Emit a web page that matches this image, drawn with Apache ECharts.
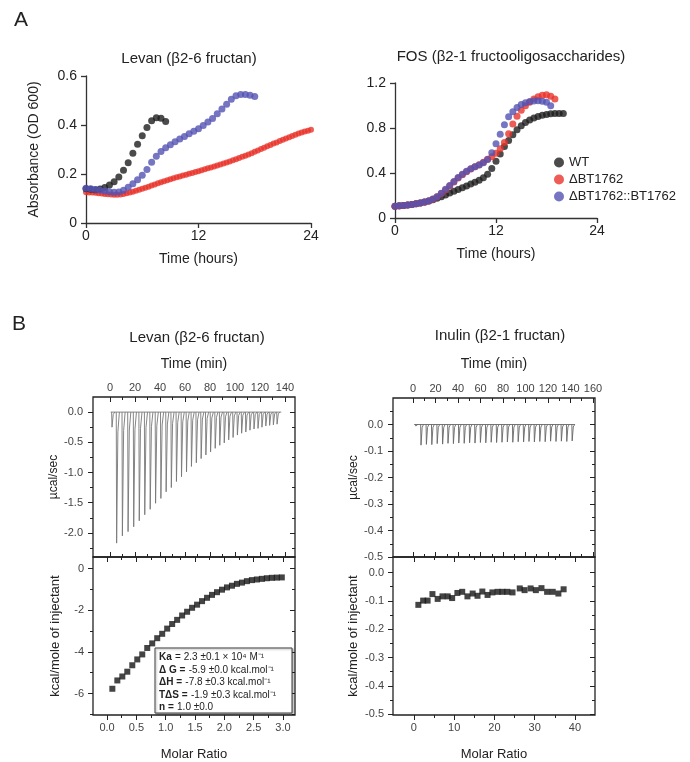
<!DOCTYPE html>
<html><head><meta charset="utf-8">
<script src="https://cdn.jsdelivr.net/npm/echarts@6/dist/echarts.min.js"></script>
<style>html,body{margin:0;padding:0;background:#fff}#c{width:690px;height:762px}</style>
</head><body><div id="c"></div>
<script>
// ---------- Panel A: Levan growth (time h, OD600) ----------
const levanWT = [[0,0.140],[0.5,0.138],[1,0.136],[1.5,0.139],[2,0.145],[2.5,0.155],[3,0.168],[3.5,0.188],[4,0.215],[4.5,0.246],[5,0.285],[5.5,0.321],[6,0.356],[6.5,0.390],[7,0.417],[7.5,0.430],[8,0.428],[8.5,0.414]];
const levanDel = [[0,0.126],[0.33,0.125],[0.67,0.124],[1,0.123],[1.33,0.121],[1.67,0.120],[2,0.118],[2.33,0.117],[2.67,0.116],[3,0.115],[3.33,0.115],[3.67,0.116],[4,0.118],[4.33,0.121],[4.67,0.124],[5,0.128],[5.33,0.132],[5.67,0.136],[6,0.140],[6.33,0.144],[6.67,0.148],[7,0.153],[7.33,0.157],[7.67,0.162],[8,0.166],[8.33,0.170],[8.67,0.175],[9,0.179],[9.33,0.183],[9.67,0.187],[10,0.190],[10.33,0.194],[10.67,0.197],[11,0.201],[11.33,0.204],[11.67,0.208],[12,0.211],[12.33,0.215],[12.67,0.219],[13,0.223],[13.33,0.227],[13.67,0.231],[14,0.235],[14.33,0.239],[14.67,0.243],[15,0.247],[15.33,0.251],[15.67,0.256],[16,0.260],[16.33,0.265],[16.67,0.270],[17,0.275],[17.33,0.280],[17.67,0.285],[18,0.291],[18.33,0.296],[18.67,0.302],[19,0.307],[19.33,0.313],[19.67,0.318],[20,0.324],[20.33,0.329],[20.67,0.335],[21,0.340],[21.33,0.345],[21.67,0.350],[22,0.355],[22.33,0.360],[22.67,0.365],[23,0.369],[23.33,0.373],[23.67,0.377],[24,0.381]];
const levanComp = [[0,0.142],[0.5,0.140],[1,0.137],[1.5,0.134],[2,0.131],[2.5,0.128],[3,0.126],[3.5,0.127],[4,0.134],[4.5,0.146],[5,0.160],[5.5,0.177],[6,0.195],[6.5,0.218],[7,0.248],[7.5,0.272],[8,0.292],[8.5,0.307],[9,0.319],[9.5,0.332],[10,0.343],[10.5,0.353],[11,0.364],[11.5,0.374],[12,0.385],[12.5,0.398],[13,0.412],[13.5,0.427],[14,0.446],[14.5,0.465],[15,0.485],[15.5,0.505],[16,0.519],[16.5,0.525],[17,0.525],[17.5,0.521],[18,0.516]];

// ---------- Panel A: FOS growth ----------
const fosWT = [[0,0.105],[0.5,0.108],[1,0.112],[1.5,0.116],[2,0.121],[2.5,0.127],[3,0.134],[3.5,0.142],[4,0.152],[4.5,0.163],[5,0.176],[5.5,0.190],[6,0.205],[6.5,0.222],[7,0.238],[7.5,0.254],[8,0.269],[8.5,0.285],[9,0.302],[9.5,0.318],[10,0.335],[10.5,0.358],[11,0.390],[11.5,0.440],[12,0.505],[12.5,0.570],[13,0.635],[13.5,0.690],[14,0.740],[14.5,0.785],[15,0.820],[15.5,0.850],[16,0.872],[16.5,0.890],[17,0.903],[17.5,0.913],[18,0.920],[18.5,0.926],[19,0.929],[19.5,0.930],[20,0.928]];
const fosDel = [[0,0.104],[0.5,0.107],[1,0.111],[1.5,0.115],[2,0.120],[2.5,0.126],[3,0.133],[3.5,0.141],[4,0.151],[4.5,0.166],[5,0.188],[5.5,0.217],[6,0.250],[6.5,0.285],[7,0.320],[7.5,0.355],[8,0.385],[8.5,0.412],[9,0.435],[9.5,0.455],[10,0.473],[10.5,0.495],[11,0.522],[11.5,0.545],[12,0.575],[12.5,0.615],[13,0.672],[13.5,0.750],[14,0.835],[14.5,0.905],[15,0.958],[15.5,0.998],[16,1.030],[16.5,1.058],[17,1.078],[17.5,1.092],[18,1.095],[18.5,1.082],[19,1.058]];
const fosComp = [[0,0.105],[0.5,0.108],[1,0.112],[1.5,0.116],[2,0.121],[2.5,0.127],[3,0.134],[3.5,0.142],[4,0.152],[4.5,0.168],[5,0.190],[5.5,0.220],[6,0.255],[6.5,0.290],[7,0.325],[7.5,0.360],[8,0.390],[8.5,0.415],[9,0.437],[9.5,0.455],[10,0.472],[10.5,0.492],[11,0.520],[11.5,0.580],[12,0.660],[12.5,0.745],[13,0.830],[13.5,0.900],[14,0.945],[14.5,0.983],[15,1.008],[15.5,1.025],[16,1.035],[16.5,1.040],[17,1.042],[17.5,1.038],[18,1.028],[18.5,0.998]];
const strainNames = ['WT','ΔBT1762','ΔBT1762::BT1762'];

// ---------- Panel B: ITC Levan ----------
const levanInjTime = [1.6,5.3,9.9,14.45,18.95,23.4,27.8,32.15,36.45,40.7,44.9,49.05,53.15,57.2,61.2,65.15,69.05,72.9,76.7,80.45,84.15,87.8,91.4,94.95,98.45,101.9,105.3,108.65,111.95,115.2,118.4,121.55,124.65,127.7,130.7,133.65];
const levanInjPeak = [-0.25,-2.17,-2.05,-1.98,-1.90,-1.80,-1.70,-1.61,-1.51,-1.43,-1.32,-1.25,-1.15,-1.07,-0.99,-0.90,-0.84,-0.77,-0.71,-0.66,-0.60,-0.55,-0.51,-0.46,-0.42,-0.38,-0.35,-0.33,-0.30,-0.28,-0.27,-0.25,-0.23,-0.22,-0.21,-0.20];
const levanBaseline = [0.5, 137];
const levanMolar = [0.09,0.175,0.26,0.345,0.43,0.515,0.60,0.685,0.77,0.855,0.94,1.025,1.11,1.195,1.28,1.365,1.45,1.535,1.62,1.705,1.79,1.875,1.96,2.045,2.13,2.215,2.30,2.385,2.47,2.555,2.64,2.725,2.81,2.895,2.98];
const levanHeat = [-5.77,-5.37,-5.18,-4.95,-4.64,-4.36,-4.12,-3.81,-3.59,-3.34,-3.13,-2.88,-2.66,-2.46,-2.25,-2.07,-1.88,-1.73,-1.56,-1.40,-1.26,-1.13,-1.01,-0.90,-0.82,-0.73,-0.67,-0.60,-0.55,-0.52,-0.49,-0.46,-0.44,-0.43,-0.42];

// ---------- Panel B: ITC Inulin ----------
const inulinInjTime = [2.5,7.1,11.9,16.7,21.5,26.3,31.1,35.9,40.7,45.5,50.3,55.1,59.9,64.7,69.5,74.3,79.1,83.9,88.7,93.5,98.3,103.1,107.9,112.7,117.5,122.3,127.1,131.9,136.7,141.5];
const inulinInjPeak = [-0.006,-0.078,-0.075,-0.076,-0.072,-0.074,-0.071,-0.072,-0.070,-0.071,-0.069,-0.070,-0.068,-0.069,-0.067,-0.068,-0.067,-0.066,-0.067,-0.065,-0.066,-0.064,-0.066,-0.064,-0.065,-0.063,-0.064,-0.063,-0.064,-0.062];
const inulinBaseline = [1, 144];
const inulinMolar = [1.1,2.3,3.4,4.6,5.9,7.1,8.4,9.5,10.8,12.0,13.3,14.6,15.8,17.0,18.3,19.5,20.8,22.0,23.2,24.5,26.3,27.5,29.0,30.3,31.7,33.1,34.5,35.9,37.2];
const inulinHeat = [-0.114,-0.099,-0.099,-0.076,-0.093,-0.084,-0.084,-0.090,-0.072,-0.068,-0.084,-0.074,-0.082,-0.067,-0.079,-0.070,-0.068,-0.068,-0.068,-0.070,-0.056,-0.062,-0.056,-0.062,-0.055,-0.068,-0.068,-0.074,-0.059];

// tick values
const tlXMaj = [0,20,40,60,80,100,120,140], tlXMin = [10,30,50,70,90,110,130];
const tlYMaj = [0,-0.5,-1,-1.5,-2], tlYMin = [-0.25,-0.75,-1.25,-1.75,-2.25];
const trXMaj = [0,20,40,60,80,100,120,140,160], trXMin = [10,30,50,70,90,110,130,150];
const trYMaj = [0,-0.1,-0.2,-0.3,-0.4,-0.5], trYMin = [0.05,-0.05,-0.15,-0.25,-0.35,-0.45];
const blXMaj = [0,0.5,1,1.5,2,2.5,3], blXMin = [0.25,0.75,1.25,1.75,2.25,2.75];
const blYMaj = [0,-2,-4,-6], blYMin = [-1,-3,-5,-7];
const brXMaj = [0,10,20,30,40], brXMin = [5,15,25,35];
const brYMaj = [0,-0.1,-0.2,-0.3,-0.4,-0.5], brYMin = [-0.05,-0.15,-0.25,-0.35,-0.45];

const FONT = '"Liberation Sans", Arial, sans-serif';
const RED = '#e8332b', BLUE = '#5452b3', BLACK = '#1e1e1e';

const chart = echarts.init(document.getElementById('c'));

const grids = [
  {left:86, top:76, width:225, height:147},
  {left:395, top:83, width:202, height:135},
  {left:93, top:397, width:202, height:160, show:true, borderColor:'#222', borderWidth:1.3},
  {left:393, top:398, width:202, height:159, show:true, borderColor:'#222', borderWidth:1.3},
  {left:93, top:557, width:202, height:162, show:true, borderColor:'#222', borderWidth:1.3},
  {left:393, top:557, width:202, height:162, show:true, borderColor:'#222', borderWidth:1.3}
];

const xAxes = [], yAxes = [];
const axLine = {lineStyle:{color:'#333', width:1.3}, onZero:false};
// Panel A axes
function aAxes(g, xmax, ymax, yint) {
  xAxes.push({gridIndex:g, type:'value', min:0, max:xmax, interval:12, splitLine:{show:false}, axisLine:axLine,
    axisTick:{length:5, lineStyle:{color:'#333', width:1.3}},
    axisLabel:{fontSize:14, color:'#222', margin:6, fontFamily:FONT},
    name:'Time (hours)', nameLocation:'middle', nameGap:29, nameTextStyle:{fontSize:14, color:'#222', fontFamily:FONT}});
  yAxes.push({gridIndex:g, type:'value', min:0, max:ymax, interval:yint, splitLine:{show:false}, axisLine:axLine,
    axisTick:{length:5, lineStyle:{color:'#333', width:1.3}},
    axisLabel:{fontSize:14, color:'#222', margin:9, fontFamily:FONT},
    name: g === 0 ? 'Absorbance (OD 600)' : '', nameLocation:'middle', nameGap:45, nameTextStyle:{fontSize:14, color:'#222', fontFamily:FONT}});
  return {xi: xAxes.length - 1, yi: yAxes.length - 1};
}
const A1 = aAxes(0, 24, 0.6, 0.2);
const A2 = aAxes(1, 24, 1.2, 0.4);

function boxAxes(g, xr, yr, o) {
  const tickStyle = {color:'#222', width:1};
  const xc = {gridIndex:g, type:'value', min:xr[0], max:xr[1], splitLine:{show:false}, axisLine:{show:false, onZero:false}};
  const yc = {gridIndex:g, type:'value', min:yr[0], max:yr[1], splitLine:{show:false}, axisLine:{show:false, onZero:false}};
  const xOpp = o.xPos === 'top' ? 'bottom' : 'top';
  const xi = xAxes.length;
  xAxes.push(Object.assign({}, xc, {position:o.xPos,
    axisTick:{customValues:o.xMaj, inside:!o.xOut, length:5, lineStyle:tickStyle},
    axisLabel:{customValues:o.xMaj, formatter:o.xFmt, fontSize:11, color:'#444', margin:o.xMargin, fontFamily:FONT},
    name:o.xName, nameLocation:'middle', nameGap:o.xNameGap, nameTextStyle:{fontSize:o.xNameSize, color:'#222', fontFamily:FONT}}));
  xAxes.push(Object.assign({}, xc, {position:xOpp, axisTick:{customValues:o.xMaj, inside:true, length:5, lineStyle:tickStyle}, axisLabel:{show:false}}));
  xAxes.push(Object.assign({}, xc, {position:o.xPos, axisTick:{customValues:o.xMin, inside:!o.xOut, length:3, lineStyle:tickStyle}, axisLabel:{show:false}}));
  xAxes.push(Object.assign({}, xc, {position:xOpp, axisTick:{customValues:o.xMin, inside:true, length:3, lineStyle:tickStyle}, axisLabel:{show:false}}));
  const yi = yAxes.length;
  yAxes.push(Object.assign({}, yc, {position:'left',
    axisTick:{customValues:o.yMaj, inside:false, length:5, lineStyle:tickStyle},
    axisLabel:{customValues:o.yMaj, formatter:o.yFmt, fontSize:11, color:'#444', margin:o.yMargin, fontFamily:FONT},
    name:o.yName, nameLocation:'middle', nameGap:o.yNameGap, nameTextStyle:{fontSize:o.yNameSize, color:'#222', fontFamily:FONT}}));
  yAxes.push(Object.assign({}, yc, {position:'right', axisTick:{customValues:o.yMaj, inside:true, length:5, lineStyle:tickStyle}, axisLabel:{show:false}}));
  yAxes.push(Object.assign({}, yc, {position:'left', axisTick:{customValues:o.yMin, inside:false, length:3, lineStyle:tickStyle}, axisLabel:{show:false}}));
  yAxes.push(Object.assign({}, yc, {position:'right', axisTick:{customValues:o.yMin, inside:true, length:3, lineStyle:tickStyle}, axisLabel:{show:false}}));
  return {xi, yi};
}
const f1 = v => v.toFixed(1), f0 = v => String(v);
const TL = boxAxes(2, [-13.6,148], [-2.4,0.25], {xPos:'top', xOut:false, xMaj:tlXMaj, xMin:tlXMin, yMaj:tlYMaj, yMin:tlYMin, xFmt:f0, yFmt:f1, xMargin:4, yMargin:10, xName:'Time (min)', xNameGap:26, xNameSize:14, yName:'µcal/sec', yNameGap:30, yNameSize:12});
const TR = boxAxes(3, [-17.8,161.8], [-0.5,0.1], {xPos:'top', xOut:false, xMaj:trXMaj, xMin:trXMin, yMaj:trYMaj, yMin:trYMin, xFmt:f0, yFmt:f1, xMargin:4, yMargin:10, xName:'Time (min)', xNameGap:27, xNameSize:14, yName:'µcal/sec', yNameGap:30, yNameSize:12});
const BL = boxAxes(4, [-0.24,3.205], [-7.03,0.56], {xPos:'bottom', xOut:true, xMaj:blXMaj, xMin:blXMin, yMaj:blYMaj, yMin:blYMin, xFmt:f1, yFmt:f0, xMargin:7, yMargin:9, xName:'Molar Ratio', xNameGap:33, xNameSize:13, yName:'kcal/mole of injectant', yNameGap:31, yNameSize:13});
const BR = boxAxes(5, [-5.2,45], [-0.503,0.055], {xPos:'bottom', xOut:true, xMaj:brXMaj, xMin:brXMin, yMaj:brYMaj, yMin:brYMin, xFmt:f0, yFmt:f1, xMargin:7, yMargin:9, xName:'Molar Ratio', xNameGap:33, xNameSize:13, yName:'kcal/mole of injectant', yNameGap:33, yNameSize:13});

function zip(a, b) { return a.map((v, i) => [v, b[i]]); }
function spikeRender(color) {
  return function (params, api) {
    const t = api.value(0), p = api.value(1);
    const pts = [api.coord([t - 0.3, 0]), api.coord([t, p]), api.coord([t + 1.0, p * 0.15]), api.coord([t + 2.2, 0])];
    return {type:'polyline', shape:{points:pts}, style:{stroke:color, lineWidth:0.9, fill:'none'}};
  };
}
function scat(name, data, ax, color, size) {
  return {type:'scatter', name, data, xAxisIndex:ax.xi, yAxisIndex:ax.yi, symbol:'circle', symbolSize:size, itemStyle:{color}, silent:true, animation:false};
}

const series = [
  scat(strainNames[1], levanDel, A1, RED, 6),
  scat(strainNames[0], levanWT, A1, BLACK, 7),
  scat(strainNames[2], levanComp, A1, BLUE, 7),
  scat(strainNames[0], fosWT, A2, BLACK, 7),
  scat(strainNames[1], fosDel, A2, RED, 7),
  scat(strainNames[2], fosComp, A2, BLUE, 7),
  {type:'line', data:levanBaseline.map(t => [t, 0]), xAxisIndex:TL.xi, yAxisIndex:TL.yi, symbol:'none', lineStyle:{color:'#777', width:0.9}, animation:false, silent:true},
  {type:'custom', data:zip(levanInjTime, levanInjPeak), xAxisIndex:TL.xi, yAxisIndex:TL.yi, renderItem:spikeRender('#777'), clip:true, animation:false, silent:true},
  {type:'line', data:inulinBaseline.map(t => [t, 0]), xAxisIndex:TR.xi, yAxisIndex:TR.yi, symbol:'none', lineStyle:{color:'#666', width:0.9}, animation:false, silent:true},
  {type:'custom', data:zip(inulinInjTime, inulinInjPeak), xAxisIndex:TR.xi, yAxisIndex:TR.yi, renderItem:spikeRender('#666'), clip:true, animation:false, silent:true},
  {type:'scatter', data:zip(levanMolar, levanHeat), xAxisIndex:BL.xi, yAxisIndex:BL.yi, symbol:'rect', symbolSize:6, itemStyle:{color:'#151515'}, animation:false, silent:true},
  {type:'scatter', data:zip(inulinMolar, inulinHeat), xAxisIndex:BR.xi, yAxisIndex:BR.yi, symbol:'rect', symbolSize:6, itemStyle:{color:'#151515'}, animation:false, silent:true}
];

const txt = (x, y, text, size, extra) => ({type:'text', x, y, style:Object.assign({text, fontSize:size, fontFamily:FONT, fill:'#222', align:'center', verticalAlign:'middle'}, extra || {})});

const statsLines = [
  '{b|Ka} {n|= 2.3 ±0.1 × 10⁴ M⁻¹}',
  '{b|Δ G =} {n|-5.9 ±0.0 kcal.mol⁻¹}',
  '{b|ΔH =} {n|-7.8 ±0.3 kcal.mol⁻¹}',
  '{b|TΔS =} {n|-1.9 ±0.3 kcal.mol⁻¹}',
  '{b|n =} {n|1.0 ±0.0}'
];

chart.setOption({
  animation:false,
  grid:grids,
  xAxis:xAxes,
  yAxis:yAxes,
  legend:{data:strainNames, orient:'vertical', left:549, top:151, itemWidth:10, itemHeight:10, itemGap:4, icon:'circle', selectedMode:false,
    textStyle:{fontSize:13, color:'#222', fontFamily:FONT}},
  series,
  graphic:[
    txt(21, 20, 'A', 21, {align:'center'}),
    txt(19, 324, 'B', 21, {align:'center'}),
    txt(189, 59, 'Levan (β2-6 fructan)', 15),
    txt(511, 57, 'FOS (β2-1 fructooligosaccharides)', 15),
    txt(197, 338, 'Levan (β2-6 fructan)', 15),
    txt(500, 336, 'Inulin (β2-1 fructan)', 15),
    {type:'rect', shape:{x:155, y:648, width:137, height:65}, style:{fill:'#fff', stroke:'#444', lineWidth:1, shadowBlur:2, shadowColor:'rgba(0,0,0,0.35)', shadowOffsetX:1, shadowOffsetY:1}, z:100},
    {type:'text', x:159, y:651, z:101, style:{text:statsLines.join('\n'), fontFamily:FONT, fill:'#222', lineHeight:12.6,
      rich:{b:{fontSize:10, fontWeight:'bold', fontFamily:FONT, fill:'#222', lineHeight:12.6}, n:{fontSize:10, fontFamily:FONT, fill:'#222', lineHeight:12.6}}}}
  ]
});
</script></body></html>
